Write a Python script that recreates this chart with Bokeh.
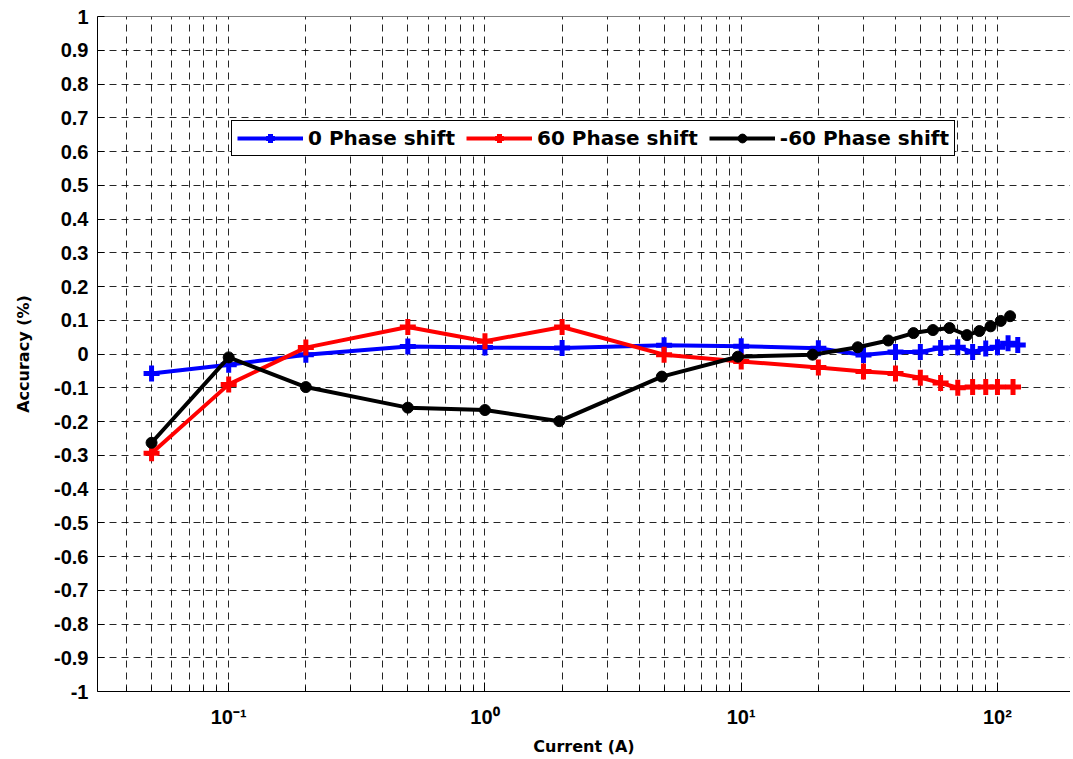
from bokeh.plotting import figure
from bokeh.models import (FixedTicker, CustomJSTickFormatter, Range1d, Span)
from bokeh.embed import file_html
from bokeh.resources import INLINE

# ---- data ----
x_zero = [0.05, 0.1, 0.2, 0.5, 1, 2, 5, 10, 20, 30, 40, 50, 60, 70, 80, 90, 100, 110, 120]
y_zero = [-0.058, -0.032, -0.002, 0.022, 0.019, 0.018, 0.026, 0.023, 0.017, -0.003, 0.006,
          0.006, 0.018, 0.020, 0.006, 0.016, 0.020, 0.032, 0.027]

x_p60 = [0.05, 0.1, 0.2, 0.5, 1, 2, 5, 10, 20, 30, 40, 50, 60, 70, 80, 90, 100, 115]
y_p60 = [-0.294, -0.090, 0.019, 0.080, 0.038, 0.080, -0.002, -0.022, -0.040, -0.052, -0.058,
         -0.070, -0.086, -0.100, -0.098, -0.098, -0.098, -0.098]

x_m60 = [0.05, 0.1, 0.2, 0.5, 1, 1.95, 4.9, 9.7, 19, 28.5, 37.5, 47, 56, 65, 76, 85, 94, 103, 112]
y_m60 = [-0.263, -0.010, -0.098, -0.159, -0.166, -0.199, -0.067, -0.008, -0.002, 0.020, 0.040,
         0.062, 0.071, 0.077, 0.056, 0.068, 0.082, 0.098, 0.112]

series_labels = ["0 Phase shift", "60 Phase shift", "-60 Phase shift"]

x_major = [0.1, 1, 10, 100]
x_minor = [m * d for d in [0.01, 0.1, 1, 10] for m in range(2, 10)]
y_ticks = [round(-1 + 0.1 * i, 1) for i in range(21)]

FONT = "Liberation Sans"
LFONT = "DejaVu Sans"

p = figure(width=1070, height=758, x_axis_type="log",
           x_range=Range1d(10 ** -1.512, 10 ** 2.285), y_range=Range1d(-1, 1),
           output_backend="svg", toolbar_location=None,
           min_border_left=97, min_border_right=0, min_border_top=16, min_border_bottom=65)
p.outline_line_color = None
p.background_fill_color = "white"
p.border_fill_color = "white"

# axes
xt = FixedTicker(ticks=x_major, minor_ticks=x_minor)
p.xaxis.ticker = xt
p.xgrid.ticker = xt
p.xaxis.formatter = CustomJSTickFormatter(code="""
const e = Math.round(Math.log10(tick));
const sup = {'-':'\u207b','0':'\u2070','1':'\u00b9','2':'\u00b2','3':'\u00b3'};
return '10' + String(e).split('').map(c => sup[c]).join('');
""")
yt = FixedTicker(ticks=y_ticks)
p.yaxis.ticker = yt
p.ygrid.ticker = yt
p.yaxis.formatter = CustomJSTickFormatter(code="return String(parseFloat(tick.toFixed(1)));")

for ax in (p.xaxis[0], p.yaxis[0]):
    ax.axis_line_color = "black"
    ax.axis_line_width = 1
    ax.major_tick_out = 0
    ax.minor_tick_out = 0
    ax.major_tick_line_color = "black"
    ax.minor_tick_line_color = "black"
    ax.major_label_text_font = FONT
    ax.major_label_text_font_style = "bold"
    ax.major_label_text_font_size = "20px"
    ax.major_label_text_color = "black"
    ax.axis_label_text_font = LFONT
    ax.axis_label_text_font_style = "bold"
    ax.axis_label_text_font_size = "16px"
    ax.axis_label_text_color = "black"

p.xaxis.major_tick_in = 9
p.xaxis.minor_tick_in = 5
p.xaxis.major_label_standoff = 14
p.xaxis.axis_label = "Current (A)"
p.xaxis.axis_label_standoff = 6

p.yaxis.major_tick_in = 7
p.yaxis.major_label_standoff = 9
p.yaxis.axis_label = "Accuracy (%)"
p.yaxis.axis_label_standoff = 18

for g in (p.xgrid[0], p.ygrid[0]):
    g.grid_line_color = "black"
    g.grid_line_alpha = 0.85
    g.grid_line_width = 1
    g.grid_line_dash = "7 5"
p.xgrid.minor_grid_line_color = "black"
p.xgrid.minor_grid_line_alpha = 0.85
p.xgrid.minor_grid_line_width = 1
p.xgrid.minor_grid_line_dash = "7 5"

p.add_layout(Span(location=1, dimension="width", line_color="black", line_width=1))

# series
p.line(x_zero, y_zero, line_color="blue", line_width=4, legend_label=series_labels[0])
p.scatter(x_zero, y_zero, marker="cross", size=16, line_color="blue", line_width=5,
          legend_label=series_labels[0])

p.line(x_p60, y_p60, line_color="red", line_width=4, legend_label=series_labels[1])
p.scatter(x_p60, y_p60, marker="cross", size=16, line_color="red", line_width=5,
          legend_label=series_labels[1])

p.line(x_m60, y_m60, line_color="black", line_width=4, legend_label=series_labels[2])
p.scatter(x_m60, y_m60, marker="circle", size=11, fill_color="black", line_color="black",
          legend_label=series_labels[2])

lg = p.legend[0]
lg.orientation = "horizontal"
lg.location = (134, 535)
lg.border_line_color = "black"
lg.border_line_width = 1
lg.border_line_alpha = 1
lg.background_fill_color = "white"
lg.background_fill_alpha = 1
lg.label_text_font = LFONT
lg.label_text_font_style = "bold"
lg.label_text_font_size = "20px"
lg.label_text_color = "black"
lg.glyph_width = 66
lg.glyph_height = 22
lg.label_standoff = 5
lg.spacing = 11
lg.padding = 5
lg.margin = 0

open("out.html", "w").write(file_html(p, INLINE))
